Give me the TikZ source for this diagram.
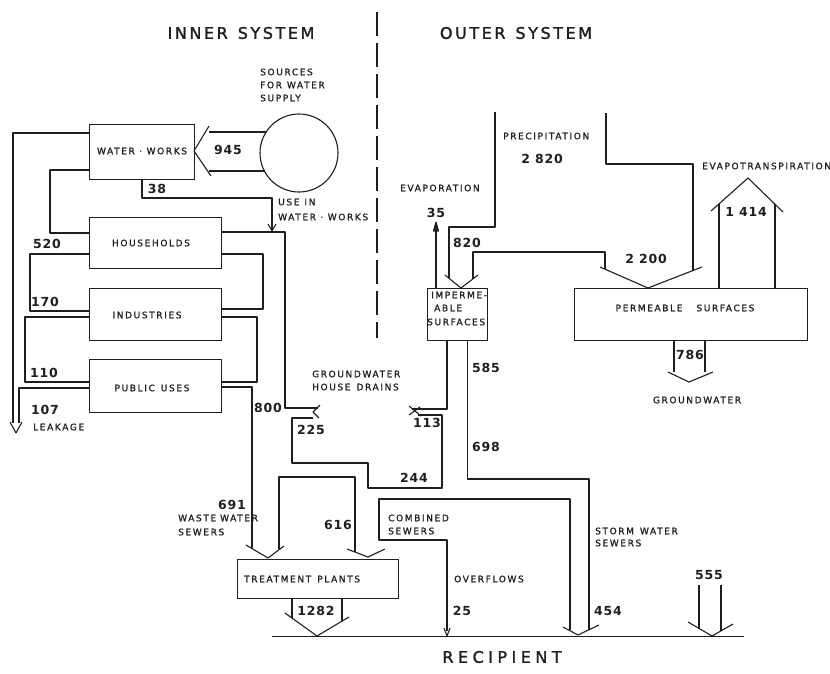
\documentclass[tikz,border=0pt]{standalone}
\usepackage{fontspec}
\setmainfont{DejaVu Sans}
\newfontfamily\lblfont[LetterSpace=18,FakeBold=1.2]{DejaVu Sans}
\newfontfamily\numfont[LetterSpace=6]{DejaVu Sans}
\newfontfamily\ttlfont[LetterSpace=16,FakeBold=1.6]{DejaVu Sans}
\newfontfamily\recfont[LetterSpace=28,FakeBold=1.4]{DejaVu Sans}
\begin{document}
\begin{tikzpicture}[x=1pt,y=-1pt,
  ln/.style={line width=1.1pt,line join=round,draw=black!88},
  box/.style={draw=black!88,line width=1.1pt,rectangle,inner sep=0pt,anchor=north west},
  lbl/.style={font=\lblfont\fontsize{9}{10}\selectfont,inner sep=0pt,text=black!88},
  num/.style={font=\numfont\bfseries\fontsize{12.5}{14}\selectfont,inner sep=0pt,text=black!88},
  ttl/.style={font=\ttlfont\fontsize{16}{18}\selectfont,inner sep=0pt,text=black!88}]
\useasboundingbox (0,0) rectangle (830,673);

% divider and titles
\draw[ln,dash pattern=on 24pt off 7pt] (377,12) -- (377,338);
\node[ttl] (tin) at (241,33) {INNER\hspace{10pt}SYSTEM};
\node[ttl] (tout) at (516,33) {OUTER\hspace{10pt}SYSTEM};

% boxes
\node[box,minimum width=105pt,minimum height=55pt] (ww) at (89,124) {};
\node[box,minimum width=132pt,minimum height=51pt] (hh) at (89,217) {};
\node[box,minimum width=132pt,minimum height=52pt] (ind) at (89,288) {};
\node[box,minimum width=132pt,minimum height=53pt] (pub) at (89,359) {};
\node[box,minimum width=60pt,minimum height=52pt] (imp) at (427,288) {};
\node[box,minimum width=233pt,minimum height=52pt] (perm) at (574,288) {};
\node[box,minimum width=161pt,minimum height=39pt] (tp) at (237,559) {};
\node[draw=black!88,line width=1.1pt,circle,minimum size=78pt,inner sep=0pt] (src) at (299,153) {};

% box texts
\node[lbl] (tww) at (142,151) {WATER · WORKS};
\node[lbl] (thh) at (151,243) {HOUSEHOLDS};
\node[lbl] (tind) at (147,315) {INDUSTRIES};
\node[lbl] (tpub) at (152,388) {PUBLIC\hspace{6pt}USES};
\node[lbl,anchor=west] (timpa) at (431,295) {IMPERME-};
\node[lbl,anchor=west] (timpb) at (434,308) {ABLE};
\node[lbl,anchor=west] (timpc) at (427,322) {SURFACES};
\node[lbl] (tperm) at (685,308) {PERMEABLE\hspace{14pt}SURFACES};
\node[lbl,anchor=west] (ttp) at (244,579) {TREATMENT\hspace{6pt}PLANTS};

% labels
\node[lbl,anchor=west] (la1) at (260,72) {SOURCES};
\node[lbl,anchor=west] (la2) at (260,85) {FOR\hspace{5pt}WATER};
\node[lbl,anchor=west] (la3) at (260,98) {SUPPLY};
\node[lbl,anchor=west] (lb1) at (278,202) {USE\hspace{5pt}IN};
\node[lbl,anchor=west] (lb2) at (278,217) {WATER · WORKS};
\node[lbl,anchor=west] (lc1) at (312,374) {GROUNDWATER};
\node[lbl,anchor=west] (lc2) at (312,387) {HOUSE\hspace{6pt}DRAINS};
\node[lbl,anchor=west] (ld) at (33,427) {LEAKAGE};
\node[lbl,anchor=west] (le1) at (178,518) {WASTE\hspace{4pt}WATER};
\node[lbl,anchor=west] (le2) at (178,532) {SEWERS};
\node[lbl,anchor=west] (lf1) at (388,518) {COMBINED};
\node[lbl,anchor=west] (lf2) at (388,531) {SEWERS};
\node[lbl,anchor=west] (lg) at (454,579) {OVERFLOWS};
\node[lbl,anchor=west] (lh1) at (595,531) {STORM\hspace{6pt}WATER};
\node[lbl,anchor=west] (lh2) at (595,543) {SEWERS};
\node[lbl,anchor=west] (li) at (400,188) {EVAPORATION};
\node[lbl,anchor=west] (lj) at (503,136) {PRECIPITATION};
\node[lbl,anchor=west] (lk) at (702,166) {EVAPOTRANSPIRATION};
\node[lbl] (ll) at (697,400) {GROUNDWATER};
\node[font=\recfont\fontsize{16}{18}\selectfont,inner sep=0pt,text=black!88] (lrec) at (502,657) {RECIPIENT};

% numbers
\node[num] (n945) at (228,150) {945};
\node[num] (n38) at (157,189) {38};
\node[num] (n520) at (47,244) {520};
\node[num] (n170) at (45,302) {170};
\node[num] (n110) at (44,373) {110};
\node[num] (n107) at (45,410) {107};
\node[num] (n800) at (268,408) {800};
\node[num] (n225) at (311,430) {225};
\node[num] (n113) at (427,423) {113};
\node[num] (n244) at (414,478) {244};
\node[num] (n691) at (232,505) {691};
\node[num] (n616) at (338,525) {616};
\node[num] (n585) at (486,368) {585};
\node[num] (n698) at (486,447) {698};
\node[num] (n1282) at (316,611) {1282};
\node[num] (n25) at (462,611) {25};
\node[num] (n454) at (608,611) {454};
\node[num] (n555) at (709,575) {555};
\node[num] (n35) at (436,213) {35};
\node[num] (n820) at (467,243) {820};
\node[num] (n2820) at (542,159) {2 820};
\node[num] (n2200) at (646,259) {2 200};
\node[num] (n1414) at (746,212) {1 414};
\node[num] (n786) at (690,355) {786};

% 945 supply arrow
\draw[ln] (209,132) -- (266,132);
\draw[ln] (209,171) -- (265,171);
\draw[ln] (209,126) -- (194,151) -- (211,176);

% left side distribution
\draw[ln] (89,133) -- (13,133) -- (13,423);
\draw[ln] (89,388) -- (19,388) -- (19,423);
\draw[ln] (10,422) -- (16,433) -- (22,422);
\draw[ln] (89,170) -- (50,170) -- (50,233) -- (89,233);
\draw[ln] (89,254) -- (30,254) -- (30,311) -- (89,311);
\draw[ln] (89,317) -- (25,317) -- (25,382) -- (89,382);

% use in water works
\draw[ln] (142,179) -- (142,198) -- (272,198) -- (272,230);
\draw[ln] (268,224) -- (272,231) -- (276,224);

% right side collection
\draw[ln] (221,232) -- (285,232) -- (285,408) -- (318,408);
\draw[ln] (320,405) -- (313,412) -- (319,418);
\draw[ln] (221,254) -- (263,254) -- (263,309) -- (221,309);
\draw[ln] (221,317) -- (257,317) -- (257,382) -- (221,382);
\draw[ln] (221,387) -- (252,387) -- (252,548);

% groundwater house drains / 244
\draw[ln] (313,418) -- (292,418) -- (292,463) -- (368,463) -- (368,488) -- (442,488) -- (442,415) -- (418,415);
\draw[ln] (447,340) -- (447,409) -- (412,409);
\draw[ln] (409,406) -- (421,416);
\draw[ln] (409,415) -- (420,407);

% to treatment plants
\draw[ln] (246,545) -- (268,558) -- (284,546);
\draw[ln] (279,549) -- (279,477) -- (355,477) -- (355,552);
\draw[ln] (347,549) -- (368,557) -- (385,549);
\draw[ln] (447,631) -- (447,540) -- (379,540) -- (379,499) -- (570,499) -- (570,630);
\draw[ln] (444,628) -- (447,636) -- (450,628);

% storm water
\draw[ln] (467.5,340) -- (467.5,479) -- (589,479) -- (589,630);
\draw[ln] (563,627) -- (578,635) -- (599,625);

% treatment output
\draw[ln] (292,598) -- (292,618);
\draw[ln] (342,598) -- (342,620.5);
\draw[ln] (285,613) -- (317,636) -- (349,617);

% 555
\draw[ln] (699,585) -- (699,628.5);
\draw[ln] (721,585) -- (721,631);
\draw[ln] (688,622) -- (712,636) -- (733,624);

% recipient
\draw[ln] (272,636.5) -- (744,636.5);

% precipitation
\draw[ln] (495,112) -- (495,227) -- (449,227) -- (449,278.3);
\draw[ln] (445,275) -- (461,288) -- (478,275);
\draw[ln] (473,278.8) -- (473,252) -- (605,252) -- (605,269.2);
\draw[ln] (600,267) -- (648,288) -- (702,267);
\draw[ln] (606,113) -- (606,164) -- (693,164) -- (693,270.5);

% evaporation
\draw[ln] (436,288) -- (436,224);
\draw[ln,fill=black!88] (433.5,231) -- (436,222) -- (438.5,231) -- cycle;

% evapotranspiration
\draw[ln] (719,288) -- (719,204);
\draw[ln] (775,288) -- (775,204.2);
\draw[ln] (711,211) -- (748,178) -- (783,212);

% groundwater 786
\draw[ln] (674,340) -- (674,372);
\draw[ln] (705,340) -- (705,372);
\draw[ln] (668,372) -- (689,382) -- (713,372);
\end{tikzpicture}
\end{document}
